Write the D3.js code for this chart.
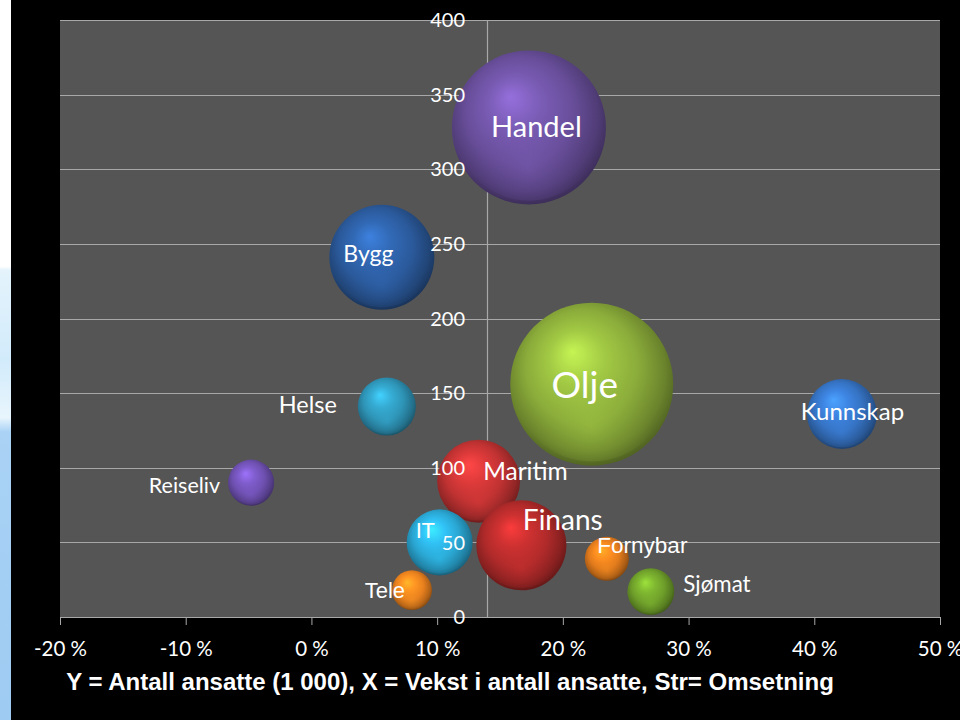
<!DOCTYPE html>
<html>
<head>
<meta charset="utf-8">
<script src="https://cdn.jsdelivr.net/npm/d3@7"></script>
<style>
  html, body { margin: 0; padding: 0; background: #000; }
  svg { display: block; }
</style>
</head>
<body>
<svg id="chart" width="960" height="720"></svg>
<script>
// ---- data ----
const sectors   = ["Handel","Bygg","Helse","Olje","Kunnskap","Reiseliv","Maritim","Finans","IT","Tele","Fornybar","Sjømat"];
const growth    = [17.3, 5.6, 6.0, 22.3, 42.2, -4.8, 13.3, 16.7, 10.2, 8.0, 23.5, 27.0];   // X: vekst i antall ansatte (%)
const employees = [328, 241, 141, 156, 136, 90, 91, 48, 50, 18, 39, 17];                  // Y: antall ansatte (1 000)
const turnover  = [893, 415, 127, 1000, 184, 80, 259, 305, 164, 60, 73, 83];              // size: omsetning
const xTicks = [-20, -10, 0, 10, 20, 30, 40, 50];
const yTicks = [0, 50, 100, 150, 200, 250, 300, 350, 400];
const title = "Y = Antall ansatte (1 000), X = Vekst i antall ansatte, Str= Omsetning";

// ---- styles ----
const colors = ["#684e9a","#2b5a9c","#2e93b5","#8aab3a","#3572c2","#6e50b0","#c03232","#b02a2a","#2aa6d2","#e8801e","#e07a1c","#6e9e2a"];
const labelStyle = [
  {anchor:"middle", dx:7.5,  dy:9.5,  size:29, font:"Lato"},
  {anchor:"middle", dx:-13.5,dy:4.5,  size:23, font:"Lato"},
  {anchor:"end",    dx:-50,  dy:6,    size:23.5, font:"Lato"},
  {anchor:"middle", dx:-7,   dy:13.5, size:37, font:"Lato"},
  {anchor:"middle", dx:10.5, dy:6,    size:24, font:"Lato"},
  {anchor:"end",    dx:-31,  dy:10.5, size:21.5, font:"Lato"},
  {anchor:"start",  dx:4.5,  dy:-1.5, size:24.5, font:"Lato"},
  {anchor:"start",  dx:1.5,  dy:-15.5,size:28, font:"Lato"},
  {anchor:"start",  dx:-24,  dy:-4.5, size:22, font:"Lato"},
  {anchor:"end",    dx:-7,   dy:7.5,  size:22, font:"Liberation Sans"},
  {anchor:"start",  dx:-9.5, dy:-6,   size:22.5, font:"Liberation Sans"},
  {anchor:"start",  dx:32.5, dy:0,    size:22.3, font:"Lato"}
];

const svg = d3.select("#chart");
const W = 960, H = 720;
const plot = {left: 60, right: 940, top: 20, bottom: 617};

// background
svg.append("rect").attr("width", W).attr("height", H).attr("fill", "#000");
const defs = svg.append("defs");

// left strip (slide background peeking through)
const stripGrad = defs.append("linearGradient").attr("id","strip").attr("x1",0).attr("y1",0).attr("x2",0).attr("y2",1);
[[0,"#ffffff"],[0.37,"#ffffff"],[0.375,"#e4f3fc"],[0.5,"#d2ebfb"],[0.58,"#e8f5fd"],[0.6,"#a9d2f5"],[1,"#9ecbf2"]]
  .forEach(([o,c]) => stripGrad.append("stop").attr("offset",o).attr("stop-color",c));
svg.append("rect").attr("x",0).attr("y",0).attr("width",11).attr("height",H).attr("fill","url(#strip)");

// scales
const x = d3.scaleLinear().domain([-20, 50]).range([plot.left, plot.right]);
const y = d3.scaleLinear().domain([0, 400]).range([plot.bottom, plot.top]);
const r = d3.scaleSqrt().domain([0, 1000]).range([0, 81.5]);

// plot area
svg.append("rect").attr("x", plot.left).attr("y", plot.top)
  .attr("width", plot.right - plot.left).attr("height", plot.bottom - plot.top)
  .attr("fill", "#555555");

// horizontal gridlines
svg.append("g").selectAll("line").data(yTicks).join("line")
  .attr("x1", plot.left).attr("x2", plot.right)
  .attr("y1", d => Math.round(y(d)) + 0.5).attr("y2", d => Math.round(y(d)) + 0.5)
  .attr("stroke", "#a8a8a8").attr("stroke-width", 1.2);

// x axis ticks
const xAxis = d3.axisBottom(x).tickValues(xTicks).tickSize(8).tickFormat(d => d + " %");
const gx = svg.append("g").attr("transform", `translate(0,${plot.bottom})`).call(xAxis);
gx.select(".domain").attr("stroke", "#a8a8a8");
gx.selectAll(".tick line").attr("stroke", "#a8a8a8");
gx.selectAll(".tick text").attr("fill", "#fff").attr("font-family", "Lato")
  .attr("font-size", 20.5).attr("dy", null).attr("y", 39);

// vertical axis line crossing at the axis position
const yAxisX = 14;
svg.append("line").attr("x1", Math.round(x(yAxisX)) + 0.5).attr("x2", Math.round(x(yAxisX)) + 0.5)
  .attr("y1", plot.top).attr("y2", plot.bottom)
  .attr("stroke", "#a8a8a8").attr("stroke-width", 1.2);

// bubbles
const data = sectors.map((s, i) => ({name: s, gx: growth[i], emp: employees[i], size: turnover[i], color: colors[i], ls: labelStyle[i], i}));

data.forEach(d => {
  const c = d3.color(d.color);
  const g = defs.append("radialGradient").attr("id", "g" + d.i)
    .attr("cx", "48%").attr("cy", "45%").attr("r", "58%").attr("fx", "38%").attr("fy", "30%");
  [[0, c.brighter(1.0)], [0.3, c.brighter(0.45)], [0.6, c], [0.84, c.darker(0.75)], [1, c.darker(1.8)]]
    .forEach(([o, col]) => g.append("stop").attr("offset", o).attr("stop-color", col.formatHex()));
  const g2 = defs.append("radialGradient").attr("id", "h" + d.i)
    .attr("cx", "50%").attr("cy", "78%").attr("r", "40%");
  g2.append("stop").attr("offset", 0).attr("stop-color", c.brighter(0.6).formatHex()).attr("stop-opacity", 0.35);
  g2.append("stop").attr("offset", 1).attr("stop-color", c.formatHex()).attr("stop-opacity", 0);
});

const bubbles = svg.append("g").selectAll("g").data(data).join("g")
  .attr("transform", d => `translate(${x(d.gx)},${y(d.emp)})`);
bubbles.append("circle").attr("r", d => r(d.size)).attr("fill", d => `url(#g${d.i})`);
bubbles.append("circle").attr("r", d => r(d.size) * 0.95).attr("fill", d => `url(#h${d.i})`);

// y axis labels
svg.append("g").selectAll("text").data(yTicks).join("text")
  .attr("x", 465).attr("y", d => y(d)).attr("dy", "0.36em")
  .attr("text-anchor", "end").attr("fill", "#fff")
  .attr("font-family", "Lato").attr("font-size", 20)
  .text(d => d);

// data labels
svg.append("g").selectAll("text").data(data).join("text")
  .attr("x", d => x(d.gx) + d.ls.dx).attr("y", d => y(d.emp) + d.ls.dy)
  .attr("text-anchor", d => d.ls.anchor)
  .attr("font-family", d => d.ls.font).attr("font-size", d => d.ls.size)
  .attr("fill", "#ffffff")
  .text(d => d.name);

// title
svg.append("text").attr("x", 450).attr("y", 690).attr("text-anchor", "middle")
  .attr("fill", "#fff").attr("font-family", "Liberation Sans, Arial").attr("font-weight", "bold")
  .attr("font-size", 24).text(title);
</script>
</body>
</html>
